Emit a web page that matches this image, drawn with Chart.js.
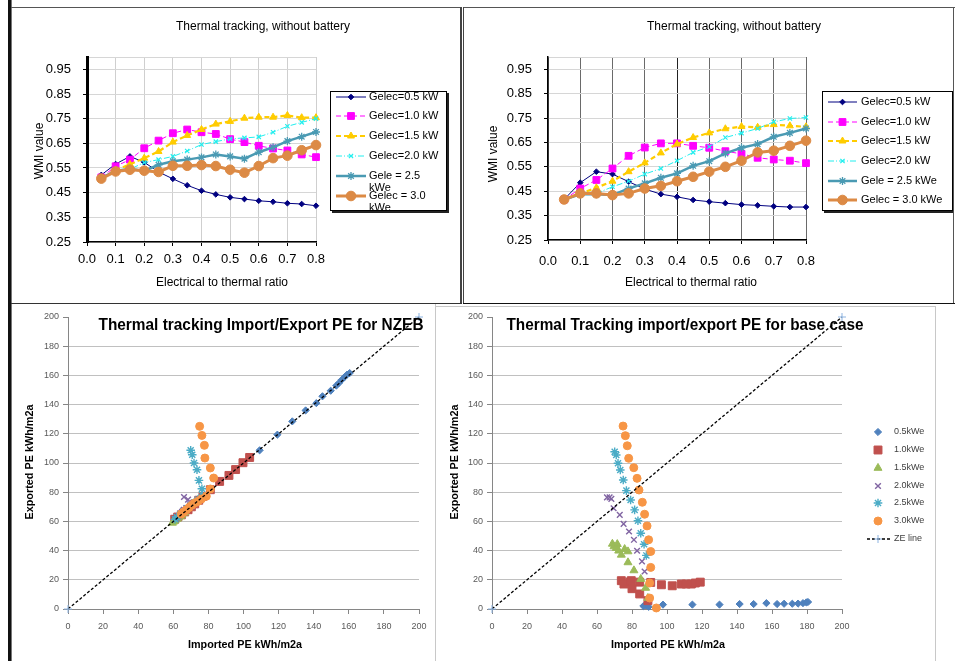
<!DOCTYPE html>
<html>
<head>
<meta charset="utf-8">
<script src="https://cdn.jsdelivr.net/npm/chart.js@4.4.0/dist/chart.umd.min.js"></script>
<style>
  body { margin: 0; background: #fff; width: 955px; height: 661px; position: relative; overflow: hidden; }
  canvas { position: absolute; display: block; }
  .line { position: absolute; }
</style>
</head>
<body>
<!-- panel frames -->
<div class="line" style="left:8px;top:0;width:3px;height:661px;background:#111"></div>
<div class="line" style="left:11px;top:0;width:1px;height:661px;background:#777"></div>
<div class="line" style="left:11px;top:7px;width:450px;height:1px;background:#555"></div>
<div class="line" style="left:460px;top:7px;width:2px;height:297px;background:#444"></div>
<div class="line" style="left:11px;top:303px;width:451px;height:1px;background:#333"></div>
<div class="line" style="left:463px;top:7px;width:492px;height:1px;background:#555"></div>
<div class="line" style="left:463px;top:7px;width:1px;height:297px;background:#444"></div>
<div class="line" style="left:953px;top:7px;width:1px;height:297px;background:#555"></div>
<div class="line" style="left:463px;top:303px;width:492px;height:1px;background:#111"></div>
<div class="line" style="left:435px;top:304px;width:1px;height:357px;background:#c8c8c8"></div>
<div class="line" style="left:436px;top:306px;width:500px;height:1px;background:#c8c8c8"></div>
<div class="line" style="left:935px;top:306px;width:1px;height:355px;background:#c8c8c8"></div>

<canvas id="wmiLeft" width="448" height="295" style="left:12px;top:8px"></canvas>
<canvas id="wmiRight" width="489" height="295" style="left:464px;top:8px"></canvas>
<canvas id="peNzeb" width="422" height="355" style="left:12px;top:306px"></canvas>
<canvas id="peBase" width="497" height="354" style="left:437px;top:307px"></canvas>

<script>
// ---- data: WMI vs electrical/thermal ratio ----
const ratio = [0.05, 0.1, 0.15, 0.2, 0.25, 0.3, 0.35, 0.4, 0.45, 0.5, 0.55, 0.6, 0.65, 0.7, 0.75, 0.8];
const ratioTicks = [0, 0.1, 0.2, 0.3, 0.4, 0.5, 0.6, 0.7, 0.8];
const wmiTicks = [0.25, 0.35, 0.45, 0.55, 0.65, 0.75, 0.85, 0.95];
const gelecLabels = ['Gelec=0.5 kW', 'Gelec=1.0 kW', 'Gelec=1.5 kW', 'Gelec=2.0 kW', 'Gele = 2.5 kWe', 'Gelec = 3.0 kWe'];

const wmiA05 = [0.522, 0.566, 0.597, 0.573, 0.534, 0.506, 0.480, 0.458, 0.443, 0.431, 0.424, 0.417, 0.413, 0.407, 0.404, 0.397];
const wmiA10 = [0.512, 0.557, 0.584, 0.630, 0.661, 0.691, 0.706, 0.695, 0.688, 0.667, 0.655, 0.640, 0.629, 0.621, 0.605, 0.594];
const wmiA15 = [0.510, 0.540, 0.565, 0.590, 0.617, 0.655, 0.682, 0.706, 0.728, 0.739, 0.752, 0.756, 0.756, 0.763, 0.754, 0.754];
const wmiA20 = [0.510, 0.535, 0.545, 0.572, 0.584, 0.597, 0.619, 0.645, 0.657, 0.668, 0.672, 0.676, 0.695, 0.719, 0.735, 0.750];
const wmiA25 = [0.510, 0.538, 0.547, 0.538, 0.563, 0.577, 0.584, 0.593, 0.605, 0.597, 0.588, 0.614, 0.634, 0.659, 0.677, 0.696];
const wmiA30 = [0.507, 0.536, 0.543, 0.539, 0.534, 0.559, 0.559, 0.562, 0.558, 0.543, 0.531, 0.558, 0.590, 0.600, 0.622, 0.643];

const wmiB05 = [0.416, 0.485, 0.530, 0.520, 0.489, 0.459, 0.438, 0.427, 0.414, 0.407, 0.401, 0.395, 0.392, 0.388, 0.385, 0.385];
const wmiB10 = [0.416, 0.461, 0.496, 0.543, 0.595, 0.629, 0.646, 0.646, 0.636, 0.628, 0.614, 0.603, 0.587, 0.580, 0.575, 0.565];
const wmiB15 = [0.416, 0.440, 0.464, 0.491, 0.530, 0.566, 0.607, 0.643, 0.670, 0.689, 0.706, 0.715, 0.712, 0.723, 0.718, 0.714];
const wmiB20 = [0.416, 0.438, 0.441, 0.468, 0.491, 0.520, 0.543, 0.575, 0.609, 0.632, 0.670, 0.688, 0.707, 0.734, 0.748, 0.752];
const wmiB25 = [0.416, 0.437, 0.437, 0.434, 0.461, 0.482, 0.505, 0.523, 0.554, 0.573, 0.605, 0.628, 0.643, 0.673, 0.689, 0.707];
const wmiB30 = [0.416, 0.441, 0.441, 0.434, 0.441, 0.461, 0.472, 0.491, 0.509, 0.530, 0.550, 0.575, 0.609, 0.616, 0.636, 0.657];

// ---- data: imported / exported PE ----
const peTicks = [0, 20, 40, 60, 80, 100, 120, 140, 160, 180, 200];
const kweLabels = ['0.5kWe', '1.0kWe', '1.5kWe', '2.0kWe', '2.5kWe', '3.0kWe'];
const zeLabel = 'ZE line';
const zeLine = [0, 200];

const nzImp05 = [109.2, 119.3, 127.8, 135.4, 141.5, 145.0, 149.7, 152.9, 154.4, 156.0, 157.6, 159.0, 160.5];
const nzExp05 = [108.7, 119.4, 128.5, 136.0, 141.0, 145.7, 149.5, 153.0, 154.8, 157.0, 158.9, 160.5, 161.6];
const nzImp10 = [60.8, 62.5, 64.6, 66.5, 68.4, 70.3, 72.2, 74.5, 76.9, 81.1, 86.4, 91.7, 95.5, 99.7, 103.5];
const nzExp10 = [61.5, 63.0, 64.5, 66.5, 68.0, 70.0, 72.0, 74.5, 77.2, 81.7, 87.4, 91.5, 95.5, 100.2, 103.8];
const nzImp15 = [59.5, 60.2, 61.0, 62.0, 63.0, 64.0, 65.0, 66.5];
const nzExp15 = [59.0, 59.8, 60.5, 61.5, 62.5, 63.5, 64.5, 66.0];
const nzImp20 = [66.1, 68.4, 69.7, 67.4, 70.3, 66.0, 65.0, 64.0, 63.0, 62.0, 61.5];
const nzExp20 = [76.7, 74.9, 71.9, 69.2, 69.9, 68.0, 66.5, 65.0, 63.5, 62.5, 61.5];
const nzImp25 = [69.9, 70.8, 71.8, 73.5, 74.6, 76.3, 76.5, 74.0, 72.0, 70.0, 68.0, 66.0, 64.0, 62.0, 61.0];
const nzExp25 = [108.7, 105.7, 100.0, 95.4, 88.1, 82.4, 78.0, 75.0, 73.0, 71.0, 69.0, 67.0, 65.0, 63.0, 61.5];
const nzImp30 = [75.0, 76.3, 77.7, 78.0, 81.1, 83.0, 81.1, 78.8, 76.0, 74.0, 72.2, 70.5, 69.0, 67.5, 66.0, 64.5];
const nzExp30 = [125.1, 118.9, 112.1, 103.4, 96.6, 89.7, 82.2, 77.2, 75.3, 73.7, 72.6, 71.0, 69.5, 68.0, 66.5, 65.0];

const bcImp05 = [86.5, 88.0, 89.5, 97.7, 114.5, 130.0, 141.5, 149.5, 156.8, 162.9, 166.9, 171.6, 174.9, 177.7, 179.6, 180.6];
const bcExp05 = [2.0, 2.5, 1.5, 3.0, 3.0, 3.0, 3.4, 3.4, 4.0, 3.4, 3.6, 3.6, 3.7, 4.0, 4.5, 4.8];
const bcImp10 = [73.9, 75.4, 78.9, 79.6, 80.0, 84.4, 84.4, 89.1, 90.7, 96.8, 103.0, 108.2, 111.0, 113.9, 116.2, 119.0];
const bcExp10 = [19.4, 17.1, 18.5, 19.4, 13.9, 10.3, 18.4, 5.7, 18.2, 16.6, 15.9, 17.1, 17.1, 17.1, 17.8, 18.4];
const bcImp15 = [68.8, 69.7, 71.0, 71.6, 72.4, 73.9, 75.8, 77.7, 77.7, 81.1, 85.0, 87.8, 89.1];
const bcExp15 = [44.6, 42.8, 41.7, 44.4, 39.9, 37.1, 41.0, 39.4, 31.9, 26.4, 20.5, 14.4, 7.5];
const bcImp20 = [65.7, 67.2, 68.2, 69.5, 73.0, 75.2, 78.3, 81.1, 82.9, 85.7, 87.2];
const bcExp20 = [76.5, 76.5, 75.4, 69.0, 64.5, 58.3, 53.1, 47.4, 39.9, 32.6, 25.7];
const bcImp25 = [70.1, 71.0, 72.0, 73.3, 75.0, 76.8, 79.2, 81.5, 83.4, 85.0, 86.9, 88.2];
const bcExp25 = [107.7, 105.5, 99.8, 95.2, 88.4, 81.1, 74.7, 67.9, 60.4, 51.9, 44.4, 36.7];
const bcImp30 = [74.9, 76.2, 77.3, 78.1, 81.0, 82.9, 84.0, 85.9, 87.2, 88.6, 89.5, 90.7, 90.7, 90.1, 90.1, 93.9];
const bcExp30 = [125.3, 118.7, 111.8, 103.2, 96.8, 89.5, 81.5, 73.1, 64.9, 56.9, 47.4, 39.4, 28.5, 17.8, 7.5, 0.7];

// ---- styles ----
const ARIAL = "'Liberation Sans', Arial, sans-serif";
Chart.defaults.font.family = ARIAL;

const wmiStyle = [
  { color: '#000080', width: 1,   dash: [],           point: 'rectRot',  r: 2.8, pb: 1 },
  { color: '#ff00ff', width: 1,   dash: [5, 3],       point: 'rect',     r: 4.8, pb: 1 },
  { color: '#ffcc00', width: 2.2, dash: [5, 3],       point: 'triangle', r: 4,   pb: 1 },
  { color: '#22eeee', width: 1,   dash: [6, 2, 1, 2], point: 'crossRot', r: 3,   pb: 1.2 },
  { color: '#4a9ab3', width: 2.5, dash: [],           point: 'star',     r: 4,   pb: 1.3 },
  { color: '#dc8a45', width: 3,   dash: [],           point: 'circle',   r: 4.8, pb: 1 }
];

const peStyle = [
  { color: '#4f81bd', point: 'rectRot',  r: 3.6, pb: 1 },
  { color: '#c0504d', point: 'rect',     r: 5.6, pb: 1 },
  { color: '#9bbb59', point: 'triangle', r: 4.6, pb: 1 },
  { color: '#8064a2', point: 'crossRot', r: 4,   pb: 1.4 },
  { color: '#4bacc6', point: 'star',     r: 4.3, pb: 1.4 },
  { color: '#f79646', point: 'circle',   r: 4,   pb: 1 }
];

// texts placed at fixed spots of a panel
const panelText = {
  id: 'panelText',
  afterDraw(chart, args, opts) {
    const ctx = chart.ctx;
    (opts.items || []).forEach(t => {
      ctx.save();
      ctx.font = t.font;
      ctx.fillStyle = t.color || '#000';
      ctx.textAlign = 'center';
      ctx.textBaseline = 'middle';
      ctx.translate(t.x, t.y);
      if (t.rotate) ctx.rotate(t.rotate);
      if (t.width) {
        const w = ctx.measureText(t.text).width;
        ctx.scale(t.width / w, 1);
      }
      ctx.fillText(t.text, 0, 0);
      ctx.restore();
    });
  }
};

// excel-like legend: line sample + marker + label
const sampleLegend = {
  id: 'sampleLegend',
  afterDraw(chart, args, o) {
    if (!o.rows) return;
    const ctx = chart.ctx;
    ctx.save();
    if (o.box) {
      const b = o.box;
      ctx.fillStyle = '#222';
      ctx.fillRect(b.x + 2, b.y + 2, b.w, b.h);
      ctx.fillStyle = '#fff';
      ctx.fillRect(b.x, b.y, b.w, b.h);
      ctx.strokeStyle = '#000';
      ctx.lineWidth = 1;
      ctx.strokeRect(b.x + 0.5, b.y + 0.5, b.w - 1, b.h - 1);
      ctx.beginPath();
      ctx.rect(b.x + 1, b.y + 1, b.w - 2, b.h - 2);
      ctx.clip();
    }
    ctx.font = o.font;
    ctx.textBaseline = 'middle';
    ctx.textAlign = 'left';
    chart.data.datasets.forEach((ds, i) => {
      const y = o.rows[i];
      const mx = o.markerX !== undefined ? o.markerX : (o.lineX[0] + o.lineX[1]) / 2;
      if (ds.showLine !== false) {
        ctx.strokeStyle = ds.borderColor;
        ctx.lineWidth = ds.borderWidth;
        ctx.setLineDash(ds.borderDash || []);
        ctx.beginPath();
        ctx.moveTo(o.lineX[0], y);
        ctx.lineTo(o.lineX[1], y);
        ctx.stroke();
      }
      ctx.setLineDash([]);
      ctx.fillStyle = ds.pointBackgroundColor;
      ctx.strokeStyle = ds.pointBorderColor;
      ctx.lineWidth = ds.pointBorderWidth;
      Chart.helpers.drawPoint(ctx, { pointStyle: ds.pointStyle, radius: ds.pointRadius, borderWidth: ds.pointBorderWidth, rotation: 0 }, mx, y);
      ctx.fillStyle = o.color || '#000';
      // simple word wrap
      const words = ds.label.split(' ');
      const lines = [];
      let cur = '';
      words.forEach(w => {
        const test = cur ? cur + ' ' + w : w;
        if (o.wrap && cur && ctx.measureText(test).width > o.wrap) { lines.push(cur); cur = w; }
        else cur = test;
      });
      lines.push(cur);
      lines.forEach((ln, k) => ctx.fillText(ln, o.textX, y + k * 11.5));
    });
    ctx.restore();
  }
};

Chart.register(panelText, sampleLegend);

function wmiDatasets(series) {
  return series.map((vals, i) => {
    const s = wmiStyle[i];
    return {
      label: gelecLabels[i],
      data: ratio.map((x, k) => ({ x: x, y: vals[k] })),
      borderColor: s.color,
      backgroundColor: s.color,
      borderWidth: s.width,
      borderDash: s.dash,
      pointStyle: s.point,
      pointRadius: s.r,
      pointBackgroundColor: s.color,
      pointBorderColor: s.color,
      pointBorderWidth: s.pb,
      order: series.length - i,
      clip: false
    };
  });
}

function wmiChart(id, series, cfg) {
  const canvas = document.getElementById(id);
  const W = canvas.width, H = canvas.height, p = cfg.plot;
  return new Chart(canvas, {
    type: 'line',
    data: { datasets: wmiDatasets(series) },
    options: {
      responsive: false,
      animation: false,
      layout: { padding: { left: 0, top: p.t, right: W - p.r, bottom: 0 } },
      plugins: {
        legend: { display: false },
        tooltip: { enabled: false },
        panelText: { items: cfg.texts },
        sampleLegend: cfg.legend
      },
      scales: {
        x: {
          type: 'linear', min: 0, max: 0.8,
          afterBuildTicks: s => { s.ticks = ratioTicks.map(v => ({ value: v })); },
          afterFit: s => { s.height = H - p.b; },
          ticks: { font: { size: 13 }, color: '#000', padding: cfg.xPad, maxRotation: 0, autoSkip: false,
                   callback: v => Number(v).toFixed(1) },
          grid: { color: cfg.vGrid, lineWidth: 1, tickLength: 4, tickColor: '#000' },
          border: { color: '#000', width: 1.5 }
        },
        y: {
          type: 'linear', min: 0.25, max: 1.0,
          afterBuildTicks: s => { s.ticks = wmiTicks.concat([1.0]).map(v => ({ value: v })); },
          afterFit: s => { s.width = p.l; },
          ticks: { font: { size: 13 }, color: '#000', padding: 12, autoSkip: false,
                   callback: v => (v > 0.99 ? '' : Number(v).toFixed(2)) },
          grid: { color: '#d6d6d6', lineWidth: 1, tickLength: 4,
                  tickColor: c => (c.tick && c.tick.value > 0.99 ? 'rgba(0,0,0,0)' : '#000') },
          border: { color: '#000', width: cfg.yAxisWidth }
        }
      }
    }
  });
}

wmiChart('wmiLeft', [wmiA05, wmiA10, wmiA15, wmiA20, wmiA25, wmiA30], {
  plot: { l: 75, r: 304, t: 49, b: 234 },
  xPad: 6,
  yAxisWidth: 3,
  vGrid: '#cfcfcf',
  texts: [
    { text: 'Thermal tracking, without battery', x: 251, y: 19, font: '12px ' + ARIAL },
    { text: 'WMI value', x: 28, y: 143, font: '12px ' + ARIAL, rotate: -Math.PI / 2 },
    { text: 'Electrical to thermal ratio', x: 210, y: 275, font: '12px ' + ARIAL }
  ],
  legend: { box: { x: 318, y: 83, w: 117, h: 120 }, rows: [89, 108, 128, 148, 168, 188],
            lineX: [324, 354], textX: 357, font: '11px ' + ARIAL, wrap: 74 }
});

wmiChart('wmiRight', [wmiB05, wmiB10, wmiB15, wmiB20, wmiB25, wmiB30], {
  plot: { l: 84, r: 342, t: 49, b: 232 },
  xPad: 10,
  yAxisWidth: 1.5,
  vGrid: c => (c.tick && c.tick.value === 0.4 ? '#222' : '#6a6a6a'),
  texts: [
    { text: 'Thermal tracking, without battery', x: 270, y: 19, font: '12px ' + ARIAL },
    { text: 'WMI value', x: 30, y: 146, font: '12px ' + ARIAL, rotate: -Math.PI / 2 },
    { text: 'Electrical to thermal ratio', x: 227, y: 275, font: '12px ' + ARIAL }
  ],
  legend: { box: { x: 358, y: 83, w: 131, h: 120 }, rows: [94, 114, 133, 153, 173, 192],
            lineX: [364, 393], textX: 397, font: '11px ' + ARIAL }
});

function peDatasets(imps, exps) {
  const sets = imps.map((xs, i) => {
    const s = peStyle[i];
    return {
      label: kweLabels[i],
      data: xs.map((x, k) => ({ x: x, y: exps[i][k] })),
      showLine: false,
      pointStyle: s.point,
      pointRadius: s.r,
      pointBackgroundColor: s.color,
      pointBorderColor: s.color,
      pointBorderWidth: s.pb,
      borderColor: s.color,
      backgroundColor: s.color,
      order: imps.length + 1 - i,
      clip: false
    };
  });
  sets.push({
    type: 'line',
    label: zeLabel,
    data: zeLine.map(v => ({ x: v, y: v })),
    showLine: true,
    borderColor: '#000',
    borderWidth: 1.3,
    borderDash: [3, 2],
    pointStyle: 'cross',
    pointRadius: 4,
    pointBackgroundColor: '#8db4e2',
    pointBorderColor: '#8db4e2',
    pointBorderWidth: 1,
    order: 0,
    clip: false
  });
  return sets;
}

function peChart(id, imps, exps, cfg) {
  const canvas = document.getElementById(id);
  const W = canvas.width, H = canvas.height, p = cfg.plot;
  const tickFont = { size: 9, family: ARIAL };
  return new Chart(canvas, {
    type: 'scatter',
    data: { datasets: peDatasets(imps, exps) },
    options: {
      responsive: false,
      animation: false,
      layout: { padding: { left: 0, top: p.t, right: W - p.r, bottom: 0 } },
      plugins: {
        legend: { display: false },
        tooltip: { enabled: false },
        panelText: { items: cfg.texts },
        sampleLegend: cfg.legend || {}
      },
      scales: {
        x: {
          type: 'linear', min: 0, max: 200,
          afterBuildTicks: s => { s.ticks = peTicks.map(v => ({ value: v })); },
          afterFit: s => { s.height = H - p.b; },
          ticks: { font: tickFont, color: '#595959', padding: 7, maxRotation: 0, autoSkip: false },
          grid: { drawOnChartArea: false, tickLength: 5, tickColor: '#868686' },
          border: { color: '#868686', width: 1 }
        },
        y: {
          type: 'linear', min: 0, max: 200,
          afterBuildTicks: s => { s.ticks = peTicks.map(v => ({ value: v })); },
          afterFit: s => { s.width = p.l; },
          ticks: { font: tickFont, color: '#595959', padding: 4, autoSkip: false },
          grid: { color: c => (c.tick && c.tick.value === 200 ? 'rgba(0,0,0,0)' : '#c0c0c0'),
                  tickLength: 5, tickColor: '#868686' },
          border: { color: '#868686', width: 1 }
        }
      }
    }
  });
}

peChart('peNzeb',
  [nzImp05, nzImp10, nzImp15, nzImp20, nzImp25, nzImp30],
  [nzExp05, nzExp10, nzExp15, nzExp20, nzExp25, nzExp30], {
  plot: { l: 56, r: 407, t: 11, b: 303 },
  texts: [
    { text: 'Thermal tracking Import/Export PE for NZEB', x: 249, y: 19, font: 'bold 17px ' + ARIAL, width: 325 },
    { text: 'Exported PE kWh/m2a', x: 18, y: 156, font: 'bold 11px ' + ARIAL, rotate: -Math.PI / 2, width: 115 },
    { text: 'Imported PE kWh/m2a', x: 233, y: 339, font: 'bold 11px ' + ARIAL, width: 114 }
  ]
});

peChart('peBase',
  [bcImp05, bcImp10, bcImp15, bcImp20, bcImp25, bcImp30],
  [bcExp05, bcExp10, bcExp15, bcExp20, bcExp25, bcExp30], {
  plot: { l: 55, r: 405, t: 10, b: 302 },
  texts: [
    { text: 'Thermal Tracking import/export PE for base case', x: 248, y: 18, font: 'bold 17px ' + ARIAL, width: 357 },
    { text: 'Exported PE kWh/m2a', x: 18, y: 155, font: 'bold 11px ' + ARIAL, rotate: -Math.PI / 2, width: 115 },
    { text: 'Imported PE kWh/m2a', x: 231, y: 338, font: 'bold 11px ' + ARIAL, width: 114 }
  ],
  legend: { rows: [125, 143, 161, 179, 196, 214, 232], lineX: [430, 455], markerX: 441,
            textX: 457, font: '9px ' + ARIAL, color: '#404040' }
});
</script>
</body>
</html>
